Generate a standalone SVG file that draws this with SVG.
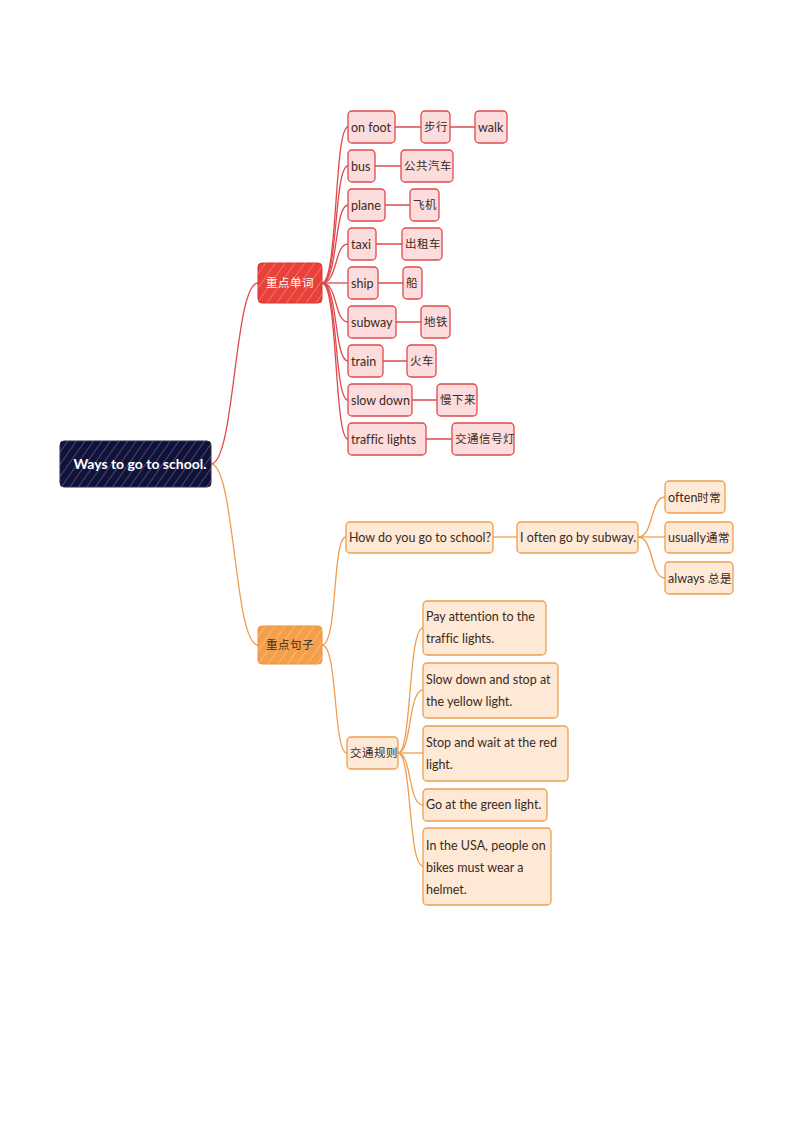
<svg xmlns="http://www.w3.org/2000/svg" width="794" height="1123" viewBox="0 0 794 1123">
<style>
text{font-family:Lato,"Noto Sans CJK SC",sans-serif;font-size:12.5px;fill:#3a2a22;font-variant-ligatures:none}
.c{font-family:"Noto Sans CJK SC",sans-serif;font-size:11.5px;letter-spacing:0.5px}
.r rect{fill:#fcdcdc;stroke:#e0494a;stroke-width:1.3}
.o rect{fill:#fde9d6;stroke:#ee9e4e;stroke-width:1.3}
.cr{fill:none;stroke:#e0494a;stroke-width:1.3}
.co{fill:none;stroke:#ee9e4e;stroke-width:1.3}
</style>
<defs>
<pattern id="h" width="7" height="7" patternUnits="userSpaceOnUse" patternTransform="rotate(35)">
<line x1="0" y1="0" x2="0" y2="7" stroke="#ffffff" stroke-width="1" opacity="0.45"/>
</pattern>
<pattern id="hl" width="8" height="8" patternUnits="userSpaceOnUse" patternTransform="rotate(35)">
<line x1="0" y1="0" x2="0" y2="8" stroke="#ffffff" stroke-width="1" opacity="0.5"/>
</pattern>
</defs>
<rect width="794" height="1123" fill="#ffffff"/>
<g id="connectors">
<path class="cr" d="M211,464 C235,464 234,283 258,283"/>
<path class="co" d="M211,464 C235,464 234,645 258,645"/>
<path class="cr" d="M322,283 C338,283 334,127 348,127"/>
<path class="cr" d="M322,283 C338,283 334,166 348,166"/>
<path class="cr" d="M322,283 C338,283 334,205 348,205"/>
<path class="cr" d="M322,283 C338,283 334,244 348,244"/>
<path class="cr" d="M322,283 C338,283 334,283 348,283"/>
<path class="cr" d="M322,283 C338,283 334,322 348,322"/>
<path class="cr" d="M322,283 C338,283 334,361 348,361"/>
<path class="cr" d="M322,283 C338,283 334,400 348,400"/>
<path class="cr" d="M322,283 C338,283 334,439 348,439"/>
<path class="cr" d="M395,127 H421 M450,127 H475 M375,166 H401 M385,205 H410 M376,244 H402 M378,283 H403 M396,322 H421 M383,361 H407 M412,400 H437 M426,439 H452"/>
<path class="co" d="M322,645 C338,645 332,537 346,537"/>
<path class="co" d="M322,645 C338,645 333,753 347,753"/>
<path class="co" d="M493,537 H517"/>
<path class="co" d="M638,537 C654,537 650,497 665,497"/>
<path class="co" d="M638,537 H665"/>
<path class="co" d="M638,537 C654,537 650,578 665,578"/>
<path class="co" d="M398,753 C412,753 408,628 423,628"/>
<path class="co" d="M398,753 C412,753 408,690 423,690"/>
<path class="co" d="M398,753 H423"/>
<path class="co" d="M398,753 C412,753 408,805 423,805"/>
<path class="co" d="M398,753 C412,753 408,866 423,866"/>
</g>
<g id="root">
<rect x="60" y="441" width="151" height="46" rx="4" fill="#11123a" stroke="#2a2c55"/>
<rect x="60" y="441" width="151" height="46" rx="4" fill="url(#h)"/>
<text x="140" y="469" text-anchor="middle" style="fill:#ffffff;font-size:14px;font-weight:bold">Ways to go to school.</text>
</g>
<g id="n-words">
<rect x="258" y="263" width="64" height="40" rx="4" fill="#e8413a" stroke="#d8352f"/>
<rect x="258" y="263" width="64" height="40" rx="4" fill="url(#hl)"/>
<text class="c" x="290" y="287" text-anchor="middle" style="fill:#ffffff">重点单词</text>
</g>
<g id="n-sent">
<rect x="258" y="626" width="64" height="38" rx="4" fill="#f4a04a" stroke="#ee9040"/>
<rect x="258" y="626" width="64" height="38" rx="4" fill="url(#hl)"/>
<text class="c" x="290" y="649" text-anchor="middle">重点句子</text>
</g>
<g class="r">
<g id="w1"><rect x="348" y="111" width="47" height="32" rx="4"/><text x="351" y="132">on foot</text></g>
<g id="w1a"><rect x="421" y="111" width="29" height="32" rx="4"/><text class="c" x="424" y="131">步行</text></g>
<g id="w1b"><rect x="475" y="111" width="32" height="32" rx="4"/><text x="478" y="132">walk</text></g>
<g id="w2"><rect x="348" y="150" width="27" height="32" rx="4"/><text x="351" y="171">bus</text></g>
<g id="w2a"><rect x="401" y="150" width="52" height="32" rx="4"/><text class="c" x="404" y="170">公共汽车</text></g>
<g id="w3"><rect x="348" y="189" width="37" height="32" rx="4"/><text x="351" y="210">plane</text></g>
<g id="w3a"><rect x="410" y="189" width="29" height="32" rx="4"/><text class="c" x="413" y="209">飞机</text></g>
<g id="w4"><rect x="348" y="228" width="28" height="32" rx="4"/><text x="351" y="249">taxi</text></g>
<g id="w4a"><rect x="402" y="228" width="40" height="32" rx="4"/><text class="c" x="405" y="248">出租车</text></g>
<g id="w5"><rect x="348" y="267" width="30" height="32" rx="4"/><text x="351" y="288">ship</text></g>
<g id="w5a"><rect x="403" y="267" width="19" height="32" rx="4"/><text class="c" x="406" y="287">船</text></g>
<g id="w6"><rect x="348" y="306" width="48" height="32" rx="4"/><text x="351" y="327">subway</text></g>
<g id="w6a"><rect x="421" y="306" width="29" height="32" rx="4"/><text class="c" x="424" y="326">地铁</text></g>
<g id="w7"><rect x="348" y="345" width="35" height="32" rx="4"/><text x="351" y="366">train</text></g>
<g id="w7a"><rect x="407" y="345" width="29" height="32" rx="4"/><text class="c" x="410" y="365">火车</text></g>
<g id="w8"><rect x="348" y="384" width="64" height="32" rx="4"/><text x="351" y="405">slow down</text></g>
<g id="w8a"><rect x="437" y="384" width="40" height="32" rx="4"/><text class="c" x="440" y="404">慢下来</text></g>
<g id="w9"><rect x="348" y="423" width="78" height="32" rx="4"/><text x="351" y="444">traffic lights</text></g>
<g id="w9a"><rect x="452" y="423" width="62" height="32" rx="4"/><text class="c" x="455" y="443">交通信号灯</text></g>
</g>
<g class="o">
<g id="s1"><rect x="346" y="522" width="147" height="31" rx="4"/><text x="349" y="542">How do you go to school?</text></g>
<g id="s1a"><rect x="517" y="522" width="121" height="31" rx="4"/><text x="520" y="542">I often go by subway.</text></g>
<g id="s1b"><rect x="665" y="481" width="60" height="32" rx="4"/><text x="668" y="502">often<tspan class="c">时常</tspan></text></g>
<g id="s1c"><rect x="665" y="522" width="68" height="31" rx="4"/><text x="668" y="542">usually<tspan class="c">通常</tspan></text></g>
<g id="s1d"><rect x="665" y="562" width="68" height="32" rx="4"/><text x="668" y="583">always <tspan class="c">总是</tspan></text></g>
<g id="s2"><rect x="347" y="737" width="51" height="32" rx="4"/><text class="c" x="350" y="757">交通规则</text></g>
<g id="r1"><rect x="423" y="601" width="123" height="54" rx="4"/><text x="426" y="621">Pay attention to the</text><text x="426" y="643">traffic lights.</text></g>
<g id="r2"><rect x="423" y="663" width="135" height="55" rx="4"/><text x="426" y="684">Slow down and stop at</text><text x="426" y="706">the yellow light.</text></g>
<g id="r3"><rect x="423" y="726" width="145" height="55" rx="4"/><text x="426" y="747">Stop and wait at the red</text><text x="426" y="769">light.</text></g>
<g id="r4"><rect x="423" y="789" width="124" height="32" rx="4"/><text x="426" y="809">Go at the green light.</text></g>
<g id="r5"><rect x="423" y="828" width="128" height="77" rx="4"/><text x="426" y="850">In the USA, people on</text><text x="426" y="872">bikes must wear a</text><text x="426" y="894">helmet.</text></g>
</g>
</svg>
